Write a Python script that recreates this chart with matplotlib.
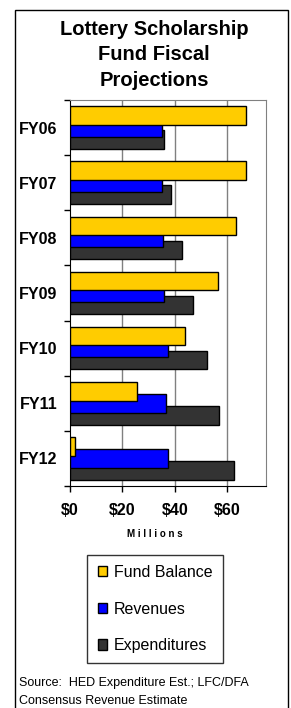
import matplotlib
matplotlib.use("Agg")
import matplotlib.pyplot as plt
from matplotlib.patches import Rectangle

plt.rcParams['font.family'] = ['Liberation Sans', 'DejaVu Sans']

# data (millions of dollars)
years = ["FY06", "FY07", "FY08", "FY09", "FY10", "FY11", "FY12"]
fund_balance = [67.1, 67.1, 63.5, 56.4, 43.8, 25.7, 2.0]
revenues = [35.0, 35.0, 35.4, 36.0, 37.3, 36.6, 37.3]
expenditures = [36.0, 38.4, 42.6, 46.8, 52.2, 57.0, 62.5]
x_ticks = [0, 20, 40, 60]
x_tick_labels = ["$0", "$20", "$40", "$60"]

fig = plt.figure(figsize=(2.91, 7.08), dpi=100)
ax = fig.add_axes([70 / 291, 1 - 486 / 708, 196 / 291, 386 / 708])

pos = list(range(len(years)))
h = 0.336
step = 0.218
ax.barh([p + step for p in pos], expenditures, height=h, color="#333333",
        edgecolor="black", linewidth=1, label="Expenditures", zorder=3)
ax.barh(pos, revenues, height=h, color="#0000FF",
        edgecolor="black", linewidth=1, label="Revenues", zorder=4)
ax.barh([p - step for p in pos], fund_balance, height=h, color="#FFCC00",
        edgecolor="black", linewidth=1, label="Fund Balance", zorder=5)

ax.set_ylim(len(years) - 0.5, -0.5)
ax.set_xlim(0, 74.8)
ax.set_yticks(pos)
ax.set_yticklabels(years, fontsize=11.5, fontweight="bold")
ax.set_yticks([p - 0.5 for p in range(len(years) + 1)], minor=True)
ax.tick_params(axis="y", which="major", length=0, pad=9)
ax.tick_params(axis="y", which="minor", length=4, direction="out", width=1)
ax.set_xticks(x_ticks)
ax.set_xticklabels(x_tick_labels, fontsize=11.5, fontweight="bold")
ax.tick_params(axis="x", length=4, direction="out", width=1, pad=8)
for x in x_ticks[1:]:
    ax.axvline(x, color="#808080", linewidth=1, zorder=1)

for s in ["top", "right"]:
    ax.spines[s].set_color("#808080")
for s in ["left", "bottom"]:
    ax.spines[s].set_color("black")

fig.text(155 / 291, 1 - 534 / 708, "M i l l i o n s", ha="center", va="center",
         fontsize=7, fontweight="bold")

fig.text(154 / 291, 1 - 55 / 708, "Lottery Scholarship\nFund Fiscal\nProjections",
         ha="center", va="center", fontsize=14.5, fontweight="bold", linespacing=1.42)

handles, labels = ax.get_legend_handles_labels()
leg = fig.legend(handles[::-1], labels[::-1], loc="center",
                 bbox_to_anchor=(155 / 291, 1 - 609 / 708), fontsize=11.5,
                 frameon=True, fancybox=False, edgecolor="black",
                 handlelength=0.6, handleheight=0.6, handletextpad=0.4,
                 labelspacing=1.35, borderpad=0.65, borderaxespad=0)
leg.get_frame().set_linewidth(1)

fig.text(19 / 291, 1 - 683 / 708, "Source:  HED Expenditure Est.; LFC/DFA",
         ha="left", va="center", fontsize=9)
fig.text(19 / 291, 1 - 701 / 708, "Consensus Revenue Estimate",
         ha="left", va="center", fontsize=9)

fig.patches.append(Rectangle((15 / 291, -0.02), 273 / 291, 1 - 10 / 708 + 0.02,
                             transform=fig.transFigure, fill=False,
                             edgecolor="black", linewidth=1))

fig.savefig("out.png", dpi=100)
